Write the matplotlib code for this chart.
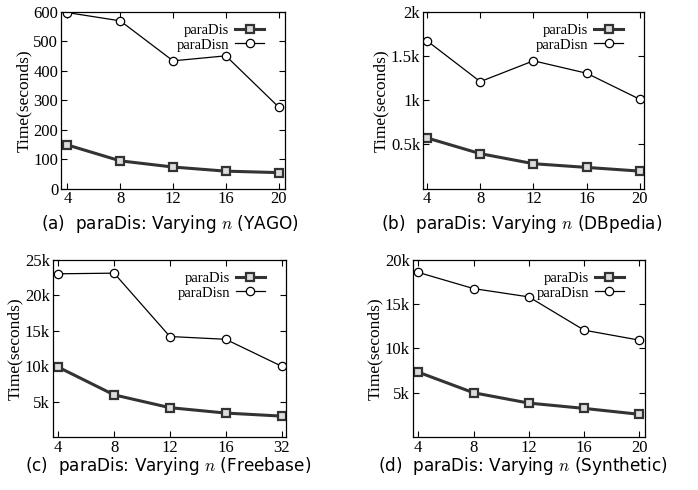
import matplotlib
matplotlib.use("Agg")
import matplotlib.pyplot as plt
from matplotlib.ticker import FuncFormatter

plt.rcParams['font.family'] = 'Liberation Serif'
plt.rcParams['mathtext.fontset'] = 'cm'

# data
n_labels_a = ['4', '8', '12', '16', '20']
n_labels_c = ['4', '8', '12', '16', '32']

yago_dis = [148, 94, 73, 59, 54]
yago_disn = [598, 570, 434, 451, 277]

dbp_dis = [573, 395, 281, 239, 197]
dbp_disn = [1674, 1211, 1447, 1306, 1010]

fb_dis = [9860, 5950, 4140, 3380, 2950]
fb_disn = [23050, 23140, 14190, 13800, 10000]

syn_dis = [7330, 5000, 3830, 3230, 2560]
syn_disn = [18600, 16770, 15830, 12070, 10940]

fig = plt.figure(figsize=(6.98, 4.90), dpi=100)


def k_fmt(v, pos):
    s = '%g' % (v / 1000.0)
    return s + 'k'


panels = [
    # rect, labels, dis, disn, ylim, yticks, formatter, xlim, caption, caption pos
    ([0.0875, 0.6153, 0.3208, 0.3602], n_labels_a, yago_dis, yago_disn, (0, 600),
     range(0, 601, 100), None, (-0.12, 4.12),
     r'(a)  paraDis: Varying $n$ (YAGO)', (0.243, 0.543)),
    ([0.606, 0.6153, 0.3166, 0.3602], n_labels_a, dbp_dis, dbp_disn, (0, 2000),
     [500, 1000, 1500, 2000], k_fmt, (-0.075, 4.075),
     r'(b)  paraDis: Varying $n$ (DBpedia)', (0.747, 0.543)),
    ([0.0755, 0.1082, 0.3342, 0.3612], n_labels_c, fb_dis, fb_disn, (0, 25000),
     [5000, 10000, 15000, 20000, 25000], k_fmt, (-0.1, 4.08),
     r'(c)  paraDis: Varying $n$ (Freebase)', (0.241, 0.05)),
    ([0.5912, 0.1082, 0.3329, 0.3612], n_labels_a, syn_dis, syn_disn, (0, 20000),
     [5000, 10000, 15000, 20000], k_fmt, (-0.1, 4.1),
     r'(d)  paraDis: Varying $n$ (Synthetic)', (0.749, 0.05)),
]

for rect, labels, dis, disn, ylim, yticks, fmt, xlim, caption, cpos in panels:
    ax = fig.add_axes(rect)
    x = list(range(len(labels)))
    ax.plot(x, dis, color='#333333', lw=2.2, marker='s', ms=6,
            mfc='#dddddd', mec='#333333', mew=1.6, label='paraDis')
    ax.plot(x, disn, color='black', lw=0.9, marker='o', ms=6,
            mfc='white', mec='black', mew=0.9, label='paraDisn')
    ax.set_xlim(xlim)
    ax.set_ylim(ylim)
    ax.set_xticks(x)
    ax.set_xticklabels(labels)
    ax.set_yticks(list(yticks))
    if fmt is not None:
        ax.yaxis.set_major_formatter(FuncFormatter(fmt))
    ax.tick_params(direction='in', top=True, right=True, length=4,
                   width=0.8, labelsize=12, pad=2)
    for sp in ax.spines.values():
        sp.set_linewidth(0.9)
    ax.set_ylabel('Time(seconds)', fontsize=12.5, labelpad=1)
    ax.legend(loc='upper right', bbox_to_anchor=(0.96, 1.0), frameon=False,
              markerfirst=False, fontsize=10.5, handlelength=2.0,
              handletextpad=0.4, labelspacing=0.1, borderpad=0.3)
    fig.text(cpos[0], cpos[1], caption, ha='center', va='center',
             fontsize=12.2, family='DejaVu Sans')

fig.savefig('out.png', dpi=100)
